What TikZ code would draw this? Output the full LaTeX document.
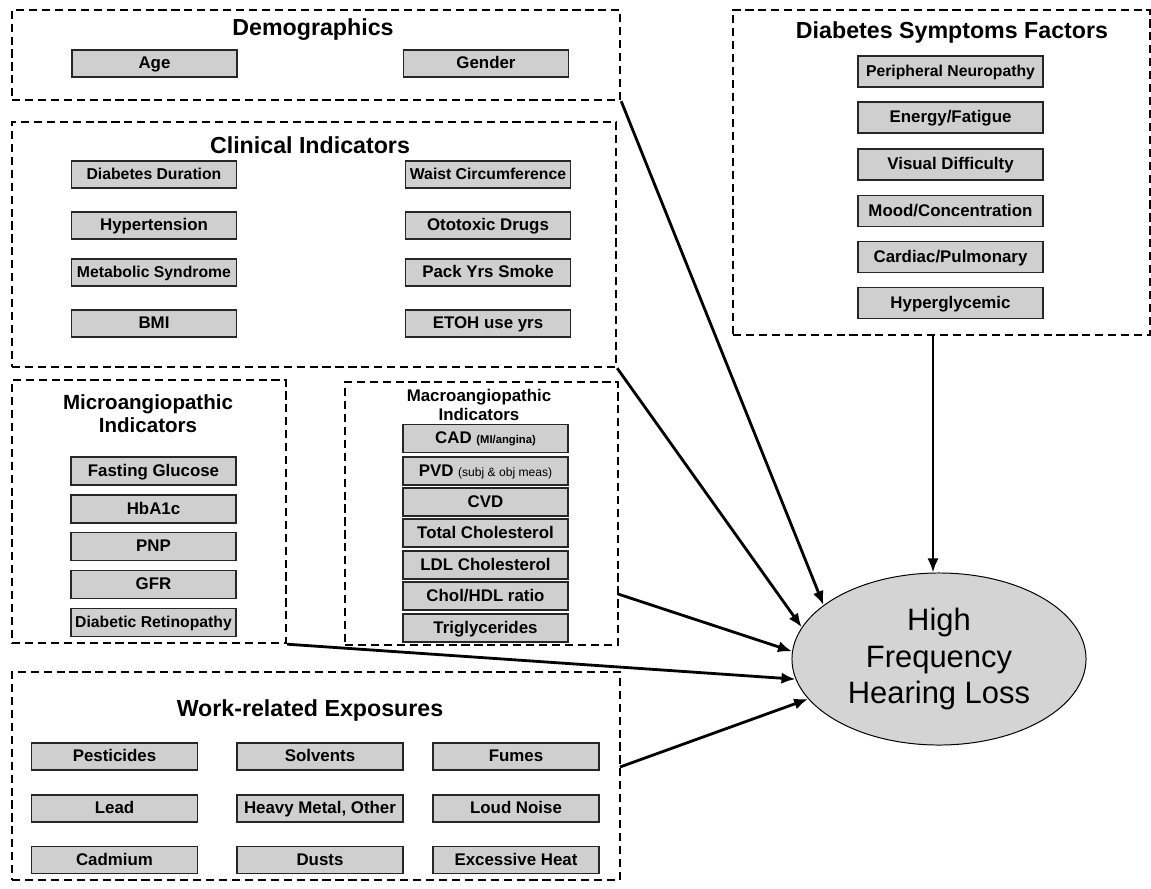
\documentclass[tikz,border=0pt]{standalone}
\usepackage{fontspec}
\setmainfont{Liberation Sans}
\usepackage{tikz}
\usetikzlibrary{shapes}
\usetikzlibrary{fit}
\usetikzlibrary{arrows.meta}
\tikzset{>={Latex[length=10pt,width=8pt]}}
\tikzset{
  grp/.style={draw, line width=1.7pt, dash pattern=on 5.8pt off 3.4pt, inner sep=0pt},
  item/.style={draw=black!85, fill=black!19, line width=1pt, inner sep=0pt,
    text height=0.9em, text depth=0.18em,
    minimum width=4.125cm, minimum height=0.68cm, font=\bfseries\fontsize{12}{14}\selectfont},
  smitem/.style={item, font=\bfseries\fontsize{11.2}{13}\selectfont},
  ttl/.style={font=\bfseries\fontsize{16.5}{19}\selectfont, align=center},
  link/.style={->, line width=2pt}
}

\begin{document}
\begin{tikzpicture}[x=0.025cm, y=-0.025cm]
      \useasboundingbox (0,0) rectangle (1151,888);
      % groups
      \node (demo) [grp, fit={(12,10) (620,100)}] {};
      \node (clin) [grp, fit={(12,122) (616,367)}] {};
      \node (micro) [grp, fit={(12,380) (286,643)}] {};
      \node (macro) [grp, fit={(345,382) (618,645)}] {};
      \node (work) [grp, fit={(12,672) (620,880)}] {};
      \node (sympt) [grp, fit={(733,10) (1150,335)}] {};

      \node (demottl) at (313,30) [ttl] {Demographics};
      \node (age) at (154.5,63.5) [item] {Age};
      \node (gender) at (486,63.5) [item] {Gender};

      \node (clinttl) at (310,145) [ttl] {Clinical Indicators};
      \node (duration) at (154,174.5) [smitem] {Diabetes Duration};
      \node (hypert) at (154,225.5) [item] {Hypertension};
      \node (metab) at (154,272.5) [smitem] {Metabolic Syndrome};
      \node (bmi) at (154,323.5) [item] {BMI};
      \node (waist) at (488,174.5) [smitem] {Waist Circumference};
      \node (ototox) at (488,225.5) [item] {Ototoxic Drugs};
      \node (packyrs) at (488,272.5) [item] {Pack Yrs Smoke};
      \node (etoh) at (488,323.5) [item] {ETOH use yrs};

      \node (microttl) at (148,414) [ttl, font=\bfseries\fontsize{14.6}{16.5}\selectfont] {Microangiopathic\\Indicators};
      \node (glucose) at (153.5,471) [item, minimum height=0.7cm] {Fasting Glucose};
      \node (hba1c) at (153.5,509) [item, minimum height=0.7cm] {HbA1c};
      \node (pnp) at (153.5,546.5) [item, minimum height=0.7cm] {PNP};
      \node (gfr) at (153.5,584.5) [item, minimum height=0.7cm] {GFR};
      \node (retino) at (153.5,622.5) [smitem, minimum height=0.7cm] {Diabetic Retinopathy};

      \node (macrottl) at (479,405) [ttl, font=\bfseries\fontsize{12}{13.5}\selectfont] {Macroangiopathic\\Indicators};
      \node (cad) at (485.5,438.5) [item, minimum height=0.7cm] {CAD {\fontsize{8}{9}\selectfont (MI/angina)}};
      \node (pvd) at (485.5,471) [item, minimum height=0.7cm] {PVD {\mdseries\fontsize{8.6}{9}\selectfont (subj \& obj meas)}};
      \node (cvd) at (485.5,502) [item, minimum height=0.7cm] {CVD};
      \node (totchol) at (485.5,533) [item, minimum height=0.7cm] {Total Cholesterol};
      \node (ldl) at (485.5,565) [item, minimum height=0.7cm] {LDL Cholesterol};
      \node (hdl) at (485.5,596) [item, minimum height=0.7cm] {Chol/HDL ratio};
      \node (trig) at (485.5,628) [item, minimum height=0.7cm] {Triglycerides};

      \node (workttl) at (310,710) [ttl] {Work-related Exposures};
      \node (pestic) at (114.5,756.5) [item, minimum width=4.15cm] {Pesticides};
      \node (solv) at (320,756.5) [item, minimum width=4.15cm] {Solvents};
      \node (fumes) at (516,756.5) [item, minimum width=4.15cm] {Fumes};
      \node (lead) at (114.5,808.5) [item, minimum width=4.15cm] {Lead};
      \node (heavy) at (320,808.5) [item, minimum width=4.15cm] {Heavy Metal, Other};
      \node (noise) at (516,808.5) [item, minimum width=4.15cm] {Loud Noise};
      \node (cadm) at (114.5,860) [item, minimum width=4.15cm] {Cadmium};
      \node (dusts) at (320,860) [item, minimum width=4.15cm] {Dusts};
      \node (heat) at (516,860) [item, minimum width=4.15cm] {Excessive Heat};

      \node (symptttl) at (952,32) [ttl] {Diabetes Symptoms Factors};
      \node (neuro) at (950.5,71.5) [smitem, minimum width=4.625cm, minimum height=0.77cm] {Peripheral Neuropathy};
      \node (energy) at (950.5,117.5) [item, minimum width=4.625cm, minimum height=0.77cm] {Energy/Fatigue};
      \node (visual) at (950.5,164.5) [item, minimum width=4.625cm, minimum height=0.77cm] {Visual Difficulty};
      \node (mood) at (950.5,211) [item, minimum width=4.625cm, minimum height=0.77cm] {Mood/Concentration};
      \node (cardiac) at (950.5,257) [item, minimum width=4.625cm, minimum height=0.77cm] {Cardiac/Pulmonary};
      \node (hyperg) at (950.5,303) [item, minimum width=4.625cm, minimum height=0.77cm] {Hyperglycemic};

      \node (hfhl) at (939,659) [ellipse, draw, fill=black!17, line width=0.7pt,
        minimum width=7.35cm, minimum height=4.3cm, align=center,
        font=\fontsize{22}{26.2}\selectfont] {High\\Frequency\\Hearing Loss};

      \coordinate (macroout) at (618,594);
      \coordinate (workout) at (620,767);
      \coordinate (symptout) at (933,335);
      \draw[link] (demo.south east) -- (hfhl.155);
      \draw[link] (clin.south east) -- (hfhl.167);
      \draw[link] (macroout) -- (hfhl.177);
      \draw[link] (micro.south east) -- (hfhl.188);
      \draw[link] (workout) -- (hfhl.197);
      \draw[link] (symptout) -- (symptout |- hfhl.north);
\end{tikzpicture}
\end{document}
